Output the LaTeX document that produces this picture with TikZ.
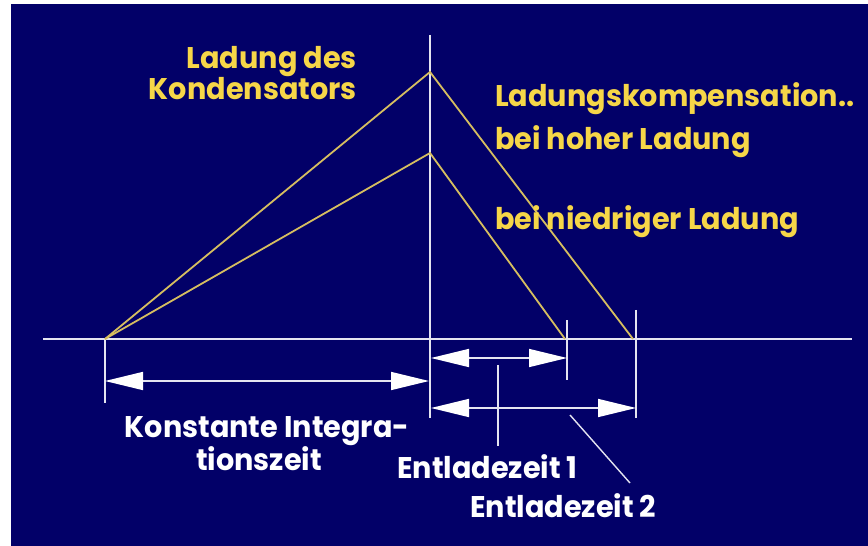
\documentclass[tikz,border=0pt]{standalone}
\usepackage{fontspec}
\setmainfont{Poppins}[BoldFont={* Bold},BoldFeatures={FakeStretch=0.96}]
\usetikzlibrary{arrows.meta}
\definecolor{bgblue}{RGB}{2,0,104}
\definecolor{lblyellow}{RGB}{246,214,72}
\definecolor{curveyellow}{RGB}{214,190,96}
\definecolor{linewhite}{RGB}{228,228,240}
\begin{document}
\begin{tikzpicture}[x=1bp,y=-1bp,
  ylabel/.style={text=lblyellow,font=\fontsize{30}{32}\selectfont\bfseries,inner sep=0pt},
  wlabel/.style={text=white,font=\fontsize{30}{32}\selectfont\bfseries,inner sep=0pt},
  axisline/.style={draw=linewhite,line width=1.6bp},
  chargeline/.style={draw=curveyellow,line width=1.8bp},
  dimarrow/.style={draw=linewhite,line width=1.6bp,
    {Triangle[length=38bp,width=18bp,fill=white,color=white]}-{Triangle[length=38bp,width=18bp,fill=white,color=white]}},
  leader/.style={draw=linewhite,line width=1.4bp}]
\useasboundingbox (0,0) rectangle (868,546);
\fill[white] (0,0) rectangle (868,546);
\fill[bgblue] (11,4) rectangle (868,546);
% coordinates
\coordinate (axL) at (43,339);
\coordinate (axR) at (852,339);
\coordinate (vTop) at (430,35);
\coordinate (vBot) at (430,418);
\coordinate (S) at (105,339);
\coordinate (Sb) at (105,403);
\coordinate (P1) at (430,72);
\coordinate (P2) at (430,153);
\coordinate (E1) at (565,339);
\coordinate (E2) at (633,339);
\coordinate (t1T) at (567,320);
\coordinate (t1B) at (567,380);
\coordinate (t2T) at (636,310);
\coordinate (t2B) at (636,418);
\coordinate (a1L) at (105,381);
\coordinate (a1R) at (429,381);
\coordinate (a2L) at (431,358);
\coordinate (a2R) at (567,358);
\coordinate (a3L) at (431,408);
\coordinate (a3R) at (636,408);
\coordinate (l1T) at (498,365);
\coordinate (l1B) at (498,446);
\coordinate (l2T) at (570,415);
\coordinate (l2B) at (630,483);
% axes
\draw[axisline] (axL) -- (axR);
\draw[axisline] (vTop) -- (vBot);
\draw[axisline] (S) -- (Sb);
\draw[axisline] (t1T) -- (t1B);
\draw[axisline] (t2T) -- (t2B);
% charge curves
\draw[chargeline] (S) -- (P1) -- (E2);
\draw[chargeline] (S) -- (P2) -- (E1);
% dimension arrows
\draw[dimarrow] (a1L) -- (a1R);
\draw[dimarrow] (a2L) -- (a2R);
\draw[dimarrow] (a3L) -- (a3R);
% leaders
\draw[leader] (l1T) -- (l1B);
\draw[leader] (l2T) -- (l2B);
% labels
\node[ylabel,anchor=base east] (ld1) at (357,69) {Ladung des};
\node[ylabel,anchor=base east] (ld2) at (357,100) {Kondensators};
\node[ylabel,anchor=base west] (lk) at (495,107) {Ladungskompensation..};
\node[ylabel,anchor=base west] (lh) at (495,150) {bei hoher Ladung};
\node[ylabel,anchor=base west] (ln) at (495,230) {bei niedriger Ladung};
\node[wlabel,anchor=base] (ki1) at (267,437) {Konstante Integra-};
\node[wlabel,anchor=base] (ki2) at (259,470) {tionszeit};
\node[wlabel,anchor=base west] (ez1) at (397,478) {Entladezeit 1};
\node[wlabel,anchor=base west] (ez2) at (470,517) {Entladezeit 2};
\end{tikzpicture}
\end{document}
